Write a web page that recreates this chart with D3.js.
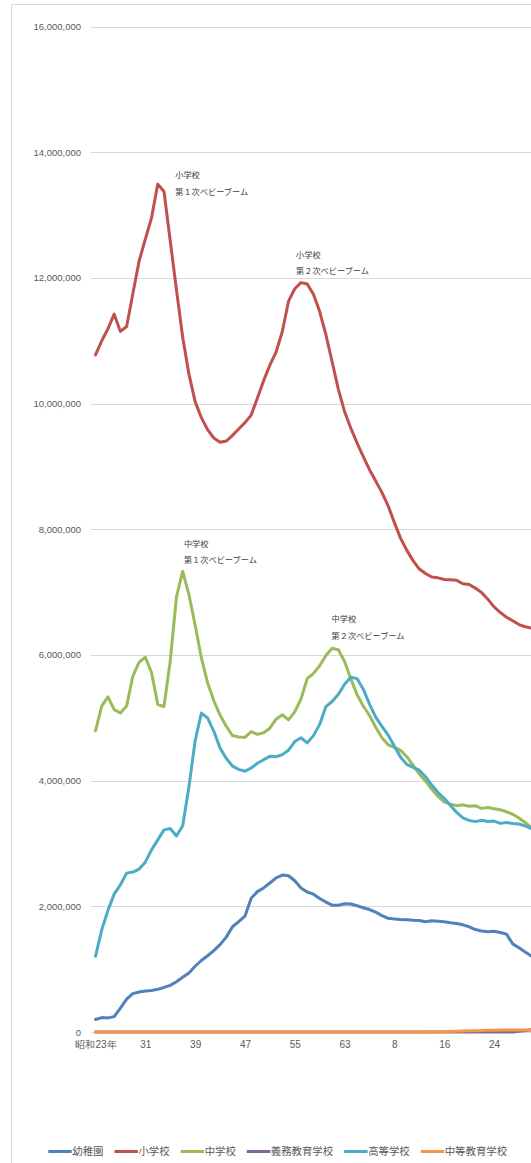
<!DOCTYPE html>
<html lang="ja">
<head>
<meta charset="UTF-8">
<title>在学者数の推移</title>
<script src="https://d3js.org/d3.v7.min.js"></script>
<style>
  body { margin: 0; background: #fff; }
  svg { display: block; font-family: "Noto Sans CJK JP", "Noto Sans", sans-serif; }
  .grid line { stroke: #d9d9d9; stroke-width: 1; shape-rendering: crispEdges; }
  .grid path.domain, .xaxis path.domain { display: none; }
  .grid text { fill: #595959; font-size: 9.5px; }
  .xaxis text { fill: #595959; font-size: 10px; }
  .note { fill: #404040; font-size: 8.2px; }
  .legend text { fill: #595959; font-size: 10.4px; }
</style>
</head>
<body>
<svg width="531" height="1163"></svg>
<script>
// 昭和23年(1948) 〜 平成30年(2018)
var years = d3.range(1948, 2019);
var tickYears = [1948, 1956, 1964, 1972, 1980, 1988, 1996, 2004, 2012];
var tickLabels = ["昭和23年", "31", "39", "47", "55", "63", "8", "16", "24"];
var yTicks = [0, 2000000, 4000000, 6000000, 8000000, 10000000, 12000000, 14000000, 16000000];

var seriesNames = ["幼稚園", "小学校", "中学校", "義務教育学校", "高等学校", "中等教育学校"];
var seriesColors = ["#4f81bd", "#c0504d", "#9bbb59", "#8064a2", "#4bacc6", "#f79646"];

var kindergarten = [
  198946, 228807, 224653, 244470, 379000, 522000, 610000, 637433, 652000, 662000,
  679000, 709000, 742367, 799000, 870000, 939000, 1046000, 1137733, 1213000, 1294000,
  1390000, 1510000, 1674625, 1757000, 1843553, 2129471, 2233470, 2292591, 2371422, 2453422,
  2497895, 2486808, 2407093, 2292810, 2227615, 2192808, 2123606, 2067951, 2018523, 2016225,
  2041820, 2037614, 2007964, 1977611, 1948868, 1907110, 1852183, 1808432, 1798051, 1789523,
  1786129, 1778286, 1773682, 1753422, 1769096, 1760494, 1753393, 1738766, 1726520, 1705402,
  1674163, 1630336, 1605912, 1596170, 1604225, 1583610, 1557461, 1402448, 1339761, 1271918,
  1207884];
var elementary = [
  10774652, 10999000, 11191401, 11422992, 11148325, 11225343, 11750925, 12266952, 12616311, 12956285,
  13492087, 13374700, 12590680, 11810874, 11056915, 10471340, 10030990, 9775532, 9584061, 9452071,
  9383182, 9403193, 9493485, 9595021, 9696133, 9816536, 10088776, 10364846, 10609985, 10819651,
  11146874, 11629110, 11826573, 11924653, 11901520, 11739452, 11464221, 11095372, 10665404, 10226323,
  9872520, 9606627, 9373295, 9157429, 8947226, 8768881, 8582871, 8370246, 8105629, 7855387,
  7663533, 7500317, 7366079, 7296920, 7239327, 7226910, 7200933, 7197458, 7187417, 7132874,
  7121781, 7063606, 6993376, 6887292, 6764619, 6676920, 6600006, 6543104, 6483515, 6448658,
  6427867];
var juniorHigh = [
  4792504, 5186188, 5332515, 5129367, 5076495, 5187448, 5664146, 5883692, 5962449, 5718067,
  5209992, 5180319, 5899973, 6924693, 7328344, 6963775, 6475799, 5956630, 5555762, 5270854,
  5043069, 4865196, 4716833, 4694250, 4688444, 4779593, 4735705, 4762442, 4833902, 4977119,
  5048296, 4966972, 5094402, 5299282, 5623975, 5706810, 5828867, 5990183, 6105749, 6081330,
  5896080, 5619297, 5369162, 5188314, 5036840, 4850137, 4681166, 4570390, 4527400, 4481480,
  4380604, 4243762, 4103717, 3991911, 3862849, 3748319, 3663513, 3626415, 3601527, 3614552,
  3592378, 3600323, 3558166, 3573821, 3552663, 3536182, 3504334, 3465215, 3406029, 3333334,
  3251670];
var compulsory = [
  0, 0, 0, 0, 0, 0, 0, 0, 0, 0,
  0, 0, 0, 0, 0, 0, 0, 0, 0, 0,
  0, 0, 0, 0, 0, 0, 0, 0, 0, 0,
  0, 0, 0, 0, 0, 0, 0, 0, 0, 0,
  0, 0, 0, 0, 0, 0, 0, 0, 0, 0,
  0, 0, 0, 0, 0, 0, 0, 0, 0, 0,
  0, 0, 0, 0, 0, 0, 0, 0, 12702, 22370,
  34559];
var highSchool = [
  1203963, 1624625, 1935118, 2193362, 2342869, 2528000, 2544612, 2592001, 2702604, 2897646,
  3057190, 3216152, 3239416, 3118902, 3281522, 3896682, 4634486, 5073882, 4997385, 4785375,
  4521013, 4353030, 4231542, 4178339, 4149939, 4200987, 4276534, 4333079, 4386536, 4380202,
  4414057, 4484815, 4621930, 4682225, 4600872, 4716143, 4894927, 5177681, 5259307, 5375107,
  5533393, 5644376, 5623336, 5454929, 5218497, 5010472, 4862725, 4724945, 4547497, 4371360,
  4258385, 4211826, 4165434, 4061756, 3929352, 3809827, 3719048, 3605242, 3494513, 3406561,
  3367489, 3347311, 3368693, 3349255, 3355609, 3319640, 3334019, 3319114, 3309342, 3280247,
  3235661];
var secondary = [
  0, 0, 0, 0, 0, 0, 0, 0, 0, 0,
  0, 0, 0, 0, 0, 0, 0, 0, 0, 0,
  0, 0, 0, 0, 0, 0, 0, 0, 0, 0,
  0, 0, 0, 0, 0, 0, 0, 0, 0, 0,
  0, 0, 0, 0, 0, 0, 0, 0, 0, 0,
  0, 139, 1702, 2528, 3295, 4924, 6074, 7456, 12426, 16412,
  19138, 20733, 23759, 26812, 28639, 30226, 31499, 32317, 32428, 32618,
  32325];

var series = [kindergarten, elementary, juniorHigh, compulsory, highSchool, secondary];

// 注記（置く位置を年・人数で指定）
var noteYears = [1960.8, 1980.2, 1962.2, 1985.9];
var noteValues = [13590000, 12320000, 7720000, 6520000];
var noteLines = [
  ["小学校", "第１次ベビーブーム"],
  ["小学校", "第２次ベビーブーム"],
  ["中学校", "第１次ベビーブーム"],
  ["中学校", "第２次ベビーブーム"]
];

var svg = d3.select("svg");
var plotLeft = 91, plotRight = 531, plotTop = 26.5, plotBottom = 1032;

// chart frame (runs past the window on the right and bottom)
svg.append("rect")
  .attr("x", 11.5).attr("y", 4.5)
  .attr("width", 600).attr("height", 1200)
  .attr("fill", "#fff").attr("stroke", "#d9d9d9");

var x = d3.scaleLinear().domain([1948, 2018]).range([95.5, 531.4]);
var y = d3.scaleLinear().domain([0, 16000000]).range([plotBottom, plotTop]);

svg.append("g")
  .attr("class", "grid")
  .attr("transform", "translate(" + plotLeft + ",0)")
  .call(d3.axisLeft(y)
    .tickValues(yTicks)
    .tickFormat(d3.format(","))
    .tickSizeInner(-(plotRight - plotLeft))
    .tickSizeOuter(0)
    .tickPadding(10));

svg.append("g")
  .attr("class", "xaxis")
  .attr("transform", "translate(0," + plotBottom + ")")
  .call(d3.axisBottom(x)
    .tickValues(tickYears)
    .tickFormat(function (d) { return tickLabels[tickYears.indexOf(d)]; })
    .tickSize(0)
    .tickPadding(9));

var line = d3.line()
  .x(function (d, i) { return x(years[i]); })
  .y(function (d) { return y(d); });

svg.selectAll("path.series")
  .data(series)
  .enter()
  .append("path")
  .attr("class", "series")
  .attr("d", line)
  .attr("fill", "none")
  .attr("stroke", function (d, i) { return seriesColors[i]; })
  .attr("stroke-width", 3)
  .attr("stroke-linejoin", "round")
  .attr("stroke-linecap", "round");

// notes
var notes = svg.selectAll("text.note")
  .data(noteLines)
  .enter()
  .append("text")
  .attr("class", "note")
  .attr("x", function (d, i) { return x(noteYears[i]); })
  .attr("y", function (d, i) { return y(noteValues[i]); });
notes.selectAll("tspan")
  .data(function (d) { return d; })
  .enter()
  .append("tspan")
  .attr("x", function () { return d3.select(this.parentNode).attr("x"); })
  .attr("dy", function (d, i) { return i === 0 ? 0 : 16.6; })
  .text(function (d) { return d; });

// legend
var legend = svg.append("g").attr("class", "legend");
var lx = 48.3, ly = 1151.5;
seriesNames.forEach(function (name, i) {
  legend.append("line")
    .attr("x1", lx).attr("x2", lx + 23.4)
    .attr("y1", ly).attr("y2", ly)
    .attr("stroke", seriesColors[i])
    .attr("stroke-width", 3);
  var t = legend.append("text")
    .attr("x", lx + 24)
    .attr("y", ly)
    .attr("dy", "0.36em")
    .text(name);
  lx += 24 + t.node().getComputedTextLength() + 11;
});
</script>
</body>
</html>
